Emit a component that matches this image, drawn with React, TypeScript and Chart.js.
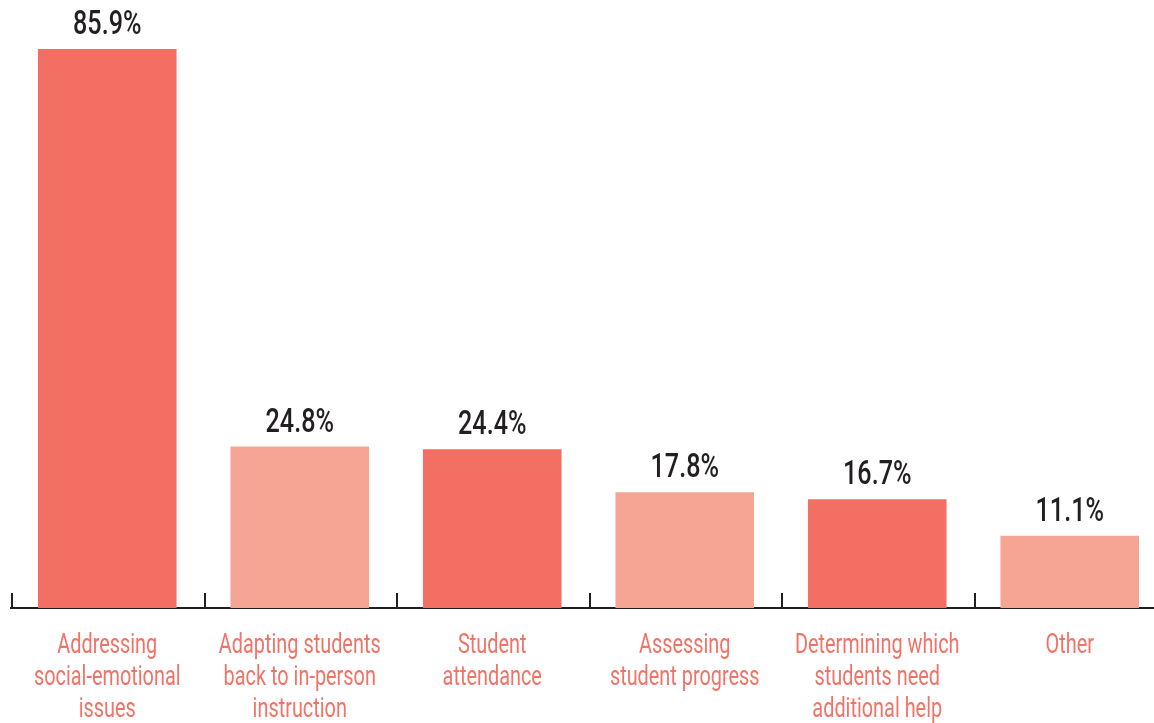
import React, { useEffect, useRef } from "react";
import { Chart, registerables } from "chart.js";

Chart.register(...registerables);

const categories: string[][] = [
  ["Addressing", "social-emotional", "issues"],
  ["Adapting students", "back to in-person", "instruction"],
  ["Student", "attendance"],
  ["Assessing", "student progress"],
  ["Determining which", "students need", "additional help"],
  ["Other"],
];
const values: number[] = [85.9, 24.8, 24.4, 17.8, 16.7, 11.1];
const valueLabels: string[] = ["85.9%", "24.8%", "24.4%", "17.8%", "16.7%", "11.1%"];
const barColors: string[] = ["#F36F63", "#F6A594", "#F36F63", "#F6A594", "#F36F63", "#F6A594"];

const FONT = "Roboto, 'DejaVu Sans', sans-serif";

const tickAndValuePlugin = {
  id: "tickAndValue",
  afterDatasetsDraw(chart: any) {
    const ctx = chart.ctx;
    const xs = chart.scales.x;
    const labels = chart.data.labels as string[][];
    const n = labels.length;
    const bottom = chart.chartArea.bottom;
    ctx.save();
    // upward tick marks at category boundaries
    ctx.strokeStyle = "#231f20";
    ctx.lineWidth = 2;
    const step = xs.width / n;
    for (let i = 0; i < n; i++) {
      const x = Math.round(xs.left + i * step) + 1;
      ctx.beginPath();
      ctx.moveTo(x, bottom - 15);
      ctx.lineTo(x, bottom);
      ctx.stroke();
    }
    // value labels
    const meta = chart.getDatasetMeta(0);
    ctx.fillStyle = "#231f20";
    ctx.font = `500 34px ${FONT}`;
    ctx.textAlign = "center";
    ctx.textBaseline = "alphabetic";
    meta.data.forEach((bar: any, i: number) => {
      ctx.save();
      ctx.translate(bar.x, bar.y - 15);
      ctx.scale(0.74, 1);
      ctx.fillText(valueLabels[i], 0, 0);
      ctx.restore();
    });
    // category labels (condensed)
    ctx.fillStyle = "#F37266";
    ctx.font = `28px ${FONT}`;
    labels.forEach((lines, i) => {
      const x = xs.getPixelForTick(i);
      lines.forEach((line, j) => {
        ctx.save();
        ctx.translate(x, bottom + 45 + j * 32);
        ctx.scale(0.71, 1);
        ctx.fillText(line, 0, 0);
        ctx.restore();
      });
    });
    ctx.restore();
  },
};

export default function App() {
  const ref = useRef<HTMLCanvasElement | null>(null);
  useEffect(() => {
    document.body.style.margin = "0";
    document.body.style.overflow = "hidden";
    const chart = new Chart(ref.current!, {
      type: "bar",
      data: {
        labels: categories,
        datasets: [
          {
            data: values,
            backgroundColor: barColors,
            borderWidth: 0,
            categoryPercentage: 0.72,
            barPercentage: 1,
          },
        ],
      },
      options: {
        animation: false,
        responsive: false,
        layout: { padding: { left: 11, right: 14, top: 49, bottom: 0 } },
        plugins: { legend: { display: false }, tooltip: { enabled: false } },
        scales: {
          x: {
            offset: true,
            grid: { display: false, drawTicks: false },
            border: { display: true, color: "#231f20", width: 2 },
            ticks: { display: false },
            afterFit: (scale: any) => {
              scale.height = 115;
            },
          },
          y: {
            display: false,
            min: 0,
            max: 85.9,
          },
        },
      },
      plugins: [tickAndValuePlugin],
    });
    return () => chart.destroy();
  }, []);
  return (
    <div style={{ position: "absolute", left: 0, top: 0, width: 1180, height: 723 }}>
      <canvas ref={ref} width={1180} height={723} style={{ width: 1180, height: 723 }} />
    </div>
  );
}
